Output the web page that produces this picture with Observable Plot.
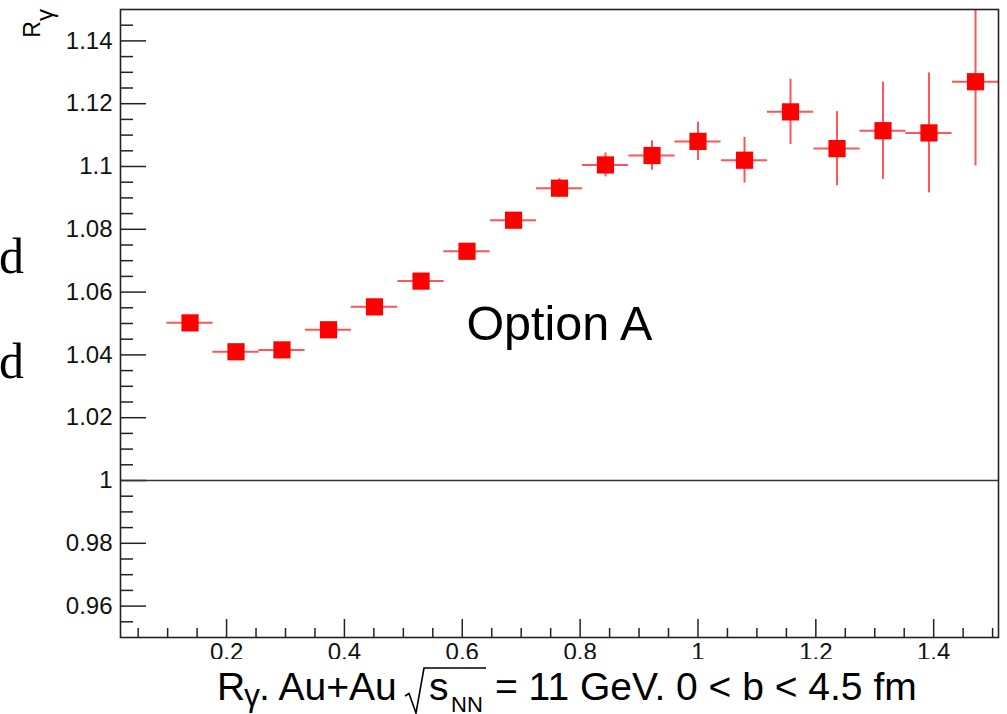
<!DOCTYPE html>
<html>
<head>
<meta charset="utf-8">
<script src="https://cdn.jsdelivr.net/npm/d3@7"></script>
<script src="https://cdn.jsdelivr.net/npm/@observablehq/plot@0.6"></script>
<style>
  html, body { margin: 0; padding: 0; background: #fff; }
  #chart { width: 1007px; height: 714px; position: relative; overflow: hidden; background: #fff; }
  #chart svg { display: block; }
</style>
</head>
<body>
<div id="chart"></div>
<script>
// R_gamma per bin, Au+Au at sqrt(s_NN) = 11 GeV, 0 < b < 4.5 fm
const binCenters = [0.138, 0.216, 0.294, 0.373, 0.451, 0.530, 0.608, 0.687, 0.765,
                    0.843, 0.922, 1.000, 1.079, 1.157, 1.236, 1.314, 1.392, 1.471];
const binHalfWidth = 0.0392;
const rGamma = [1.0502, 1.0410, 1.0416, 1.0480, 1.0553, 1.0635, 1.0730, 1.0829, 1.0931,
                1.1005, 1.1035, 1.1080, 1.1020, 1.1174, 1.1057, 1.1114, 1.1107, 1.1270];
const rGammaErr = [0.0015, 0.0015, 0.0015, 0.0015, 0.0018, 0.0018, 0.0020, 0.0022, 0.0030,
                   0.0038, 0.0047, 0.0061, 0.0073, 0.0104, 0.0118, 0.0155, 0.0191, 0.0268];

const xTickValues = [0.2, 0.4, 0.6, 0.8, 1, 1.2, 1.4];
const yTickValues = [0.96, 0.98, 1, 1.02, 1.04, 1.06, 1.08, 1.1, 1.12, 1.14];
const xDomain = [0.02, 1.51];
const yDomain = [0.95, 1.15];
const referenceLevel = [1];
const optionLabel = [{x: 0.607, y: 1.0496, text: "Option A"}];

const FONT = "'Liberation Sans', Arial, Helvetica, sans-serif";

const points = binCenters.map((x, i) => ({
  x, r: rGamma[i], err: rGammaErr[i]
}));

// minor ticks between the labelled ones
const xMinor = d3.range(1, 31).map(i => +(i * 0.05).toFixed(3))
  .filter(v => !xTickValues.some(t => Math.abs(t - v) < 1e-6));
const yMinor = d3.range(191, 230).map(i => +(i * 0.005).toFixed(4))
  .filter(v => v > yDomain[0] && v < yDomain[1])
  .filter(v => !yTickValues.some(t => Math.abs(t - v) < 1e-6));

const W = 1007, H = 659;
const mL = 120, mR = 9, mT = 9, mB = 22;
const frameW = W - mL - mR, frameH = H - mT - mB;
const fmt = d => String(+d.toFixed(2));

const plot = Plot.plot({
  width: W,
  height: H,
  marginLeft: mL, marginRight: mR, marginTop: mT, marginBottom: mB,
  x: {domain: xDomain, axis: null},
  y: {domain: yDomain, axis: null},
  style: {fontFamily: FONT, fontSize: "24px", color: "#000", background: "#fff", overflow: "hidden"},
  marks: [
    // inward ticks on the bottom axis
    Plot.ruleX(xTickValues, {x: d => d, insetTop: frameH - 18, stroke: "#222", strokeWidth: 1.5}),
    Plot.ruleX(xMinor, {x: d => d, insetTop: frameH - 9, stroke: "#222", strokeWidth: 1.5}),
    // inward ticks on the left axis
    Plot.ruleY(yTickValues, {y: d => d, insetRight: frameW - 26, stroke: "#222", strokeWidth: 1.5}),
    Plot.ruleY(yMinor, {y: d => d, insetRight: frameW - 13, stroke: "#222", strokeWidth: 1.5}),
    // tick labels (the bottom row is partly hidden under the axis title band)
    Plot.text(yTickValues, {y: d => d, text: fmt, frameAnchor: "left", textAnchor: "end",
      dx: -8, lineAnchor: "middle", fontSize: 24, fill: "#111"}),
    Plot.text(xTickValues, {x: d => d, text: fmt, frameAnchor: "bottom", lineAnchor: "top",
      dy: 5, fontSize: 24, fill: "#111"}),
    // unity line
    Plot.ruleY(referenceLevel, {y: d => d, stroke: "#333", strokeWidth: 1.5}),
    // bin-width and statistical error bars
    Plot.ruleY(points, {y: "r", x1: d => d.x - binHalfWidth, x2: d => d.x + binHalfWidth,
      stroke: "#ff2a2a", strokeWidth: 2, strokeOpacity: 0.8}),
    Plot.ruleX(points, {x: "x", y1: d => d.r - d.err, y2: d => d.r + d.err,
      stroke: "#ff2a2a", strokeWidth: 2, strokeOpacity: 0.8, clip: true}),
    // markers
    Plot.dot(points, {x: "x", y: "r", symbol: "square", r: 9.7, fill: "#ff0000", stroke: "none"}),
    // annotation
    Plot.text(optionLabel, {x: "x", y: "y", text: "text", textAnchor: "start",
      lineAnchor: "middle", fontSize: 48.5, fill: "#000"}),
    Plot.frame({stroke: "#222", strokeWidth: 1.6})
  ]
});

const svg = d3.select(plot);

// y-axis title R_gamma, rotated, right-aligned at the top of the axis
const yt = svg.append("text")
  .attr("transform", "translate(39.5,9) rotate(-90)")
  .attr("text-anchor", "end")
  .attr("font-family", FONT)
  .attr("font-size", 23)
  .attr("fill", "#000");
yt.append("tspan").text("R");
yt.append("tspan").attr("font-size", 24).attr("dy", 13.5).text("γ");

// fragments of neighbouring page text at the left edge
svg.append("text").attr("x", 24).attr("y", 273).attr("text-anchor", "end")
  .attr("font-family", "'Liberation Serif', 'DejaVu Serif', serif").attr("font-size", 50)
  .attr("fill", "#000").text("d");
svg.append("text").attr("x", 24).attr("y", 378).attr("text-anchor", "end")
  .attr("font-family", "'Liberation Serif', 'DejaVu Serif', serif").attr("font-size", 50)
  .attr("fill", "#000").text("d");

document.getElementById("chart").appendChild(plot);

// x-axis title below the plot
const cap = d3.create("svg")
  .attr("width", W).attr("height", 714 - H)
  .attr("font-family", FONT)
  .attr("fill", "#000")
  .style("display", "block");
const base = 41;
cap.append("text").attr("x", 217).attr("y", base).attr("font-size", 39).text("R");
cap.append("text").attr("x", 244).attr("y", 46.5).attr("font-size", 32).text("γ");
cap.append("text").attr("x", 259).attr("y", base).attr("font-size", 39).text(". Au+Au");
cap.append("path")
  .attr("d", "M405,37 L409,34.5 L416,54 L424,9 L486,9")
  .attr("fill", "none").attr("stroke", "#000").attr("stroke-width", 1.6);
cap.append("text").attr("x", 429).attr("y", base).attr("font-size", 39).text("s");
cap.append("text").attr("x", 451).attr("y", 53).attr("font-size", 22).text("NN");
cap.append("text").attr("x", 495).attr("y", base).attr("font-size", 39).text("= 11 GeV. 0 < b < 4.5 fm");

document.getElementById("chart").appendChild(cap.node());
</script>
</body>
</html>
